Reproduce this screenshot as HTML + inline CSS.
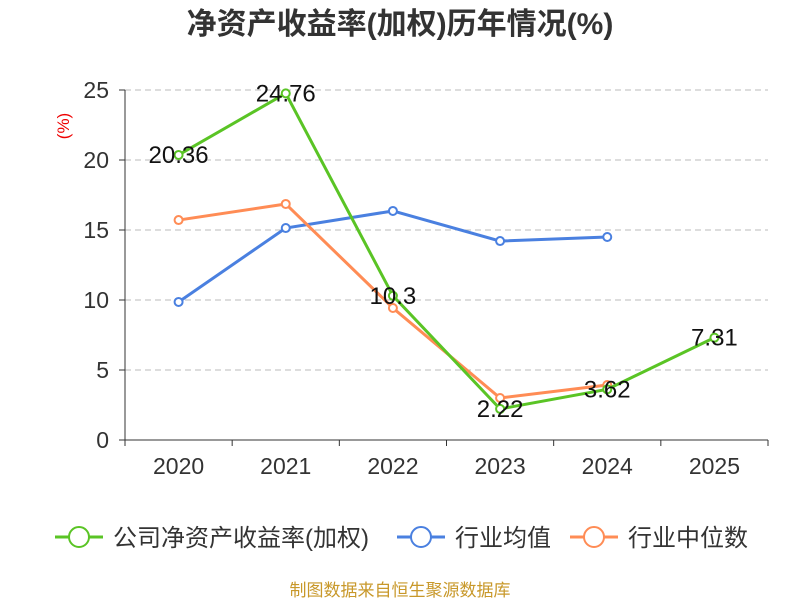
<!DOCTYPE html>
<html><head><meta charset="utf-8"><style>
body{margin:0;background:#fff;}
svg text{font-family:"Liberation Sans","Noto Sans CJK SC",sans-serif;}
</style></head><body>
<svg id="chart" width="800" height="600" xmlns="http://www.w3.org/2000/svg">
<text x="400" y="34" text-anchor="middle" font-size="30" font-weight="bold" fill="#333">净资产收益率(加权)历年情况(%)</text>
<text transform="translate(69,126) rotate(-90)" text-anchor="middle" font-size="17" fill="#e00">(%)</text>
<g id="grid"></g><g id="axes"></g><g id="series"></g>
<g id="legend"></g>
<text x="400" y="596" text-anchor="middle" font-size="17" fill="#c8982a">制图数据来自恒生聚源数据库</text>
</svg>
<script>
const categories=["2020","2021","2022","2023","2024","2025"];
const companyValues=[20.36,24.76,10.3,2.22,3.62,7.31];
const industryAvg=[9.86,15.14,16.36,14.21,14.5,null];
const industryMedian=[15.71,16.86,9.43,3.0,3.93,null];
const yTicks=[0,5,10,15,20,25];
const seriesNames=["公司净资产收益率(加权)","行业均值","行业中位数"];
const ns="http://www.w3.org/2000/svg";
const L=125,R=768,T=90,B=440,yMax=25;
const bw=(R-L)/categories.length;
const xs=i=>L+bw*(i+0.5);
const ys=v=>B-(B-T)*v/yMax;
function mk(tag,attrs,parent,text){const e=document.createElementNS(ns,tag);for(const k in attrs)e.setAttribute(k,attrs[k]);if(text!==undefined)e.textContent=text;parent.appendChild(e);return e;}
const grid=document.getElementById('grid'),axes=document.getElementById('axes'),ser=document.getElementById('series'),leg=document.getElementById('legend');
yTicks.forEach(t=>{
 const y=ys(t);
 if(t>0){const g=mk('line',{x1:L,x2:R,y1:y,y2:y,stroke:'#bbb','stroke-dasharray':'6,4'},grid);
 
 }
 const tk=mk('line',{x1:L-6,x2:L,y1:y,y2:y,stroke:'#333'},axes);
 
 
 const lb=mk('text',{x:L-16,y:y+8,'text-anchor':'end','font-size':23,fill:'#333'},axes,t);
 
 
});
const ya=mk('line',{x1:L,x2:L,y1:T,y2:B,stroke:'#333'},axes);


const xa=mk('line',{x1:L,x2:R,y1:B,y2:B,stroke:'#333'},axes);


for(let i=0;i<=categories.length;i++){const t=mk('line',{x1:L+bw*i,x2:L+bw*i,y1:B,y2:B+6,stroke:'#333'},axes);
 
 }
categories.forEach((c,i)=>{const t=mk('text',{x:xs(i),y:B+34,'text-anchor':'middle','font-size':23,fill:'#333'},axes,c);
 
 });
function drawSeries(vals,color,name,labels){
 const g=mk('g',{},ser);
 
 
 const pts=[];vals.forEach((v,i)=>{if(v!==null)pts.push([xs(i),ys(v),v]);});
 const p=mk('polyline',{points:pts.map(p=>p[0]+','+p[1]).join(' '),fill:'none',stroke:color,'stroke-width':3},g);
 
 
 pts.forEach(pt=>{const c=mk('circle',{cx:pt[0],cy:pt[1],r:4,fill:'#fff',stroke:color,'stroke-width':2},g);
  
  
  if(labels){const t=mk('text',{x:pt[0],y:pt[1]+8,'text-anchor':'middle','font-size':24,fill:'#111'},g,pt[2]);
  
  }});
}
drawSeries(industryAvg,'#4a80e0','industry-average',false);
drawSeries(industryMedian,'#ff8c55','industry-median',false);
drawSeries(companyValues,'#5ac425','company-roe',true);
const legColors=['#5ac425','#4a80e0','#ff8c55'];
const legX=[55,397,570];
seriesNames.forEach((n,i)=>{
 const g=mk('g',{},leg);
 
 
 mk('line',{x1:legX[i],x2:legX[i]+48,y1:537,y2:537,stroke:legColors[i],'stroke-width':3},g);
 mk('circle',{cx:legX[i]+24,cy:537,r:10,fill:'#fff',stroke:legColors[i],'stroke-width':2},g);
 mk('text',{x:legX[i]+58,y:546,'font-size':24,fill:'#333'},g,n);
});
</script>
</body></html>
